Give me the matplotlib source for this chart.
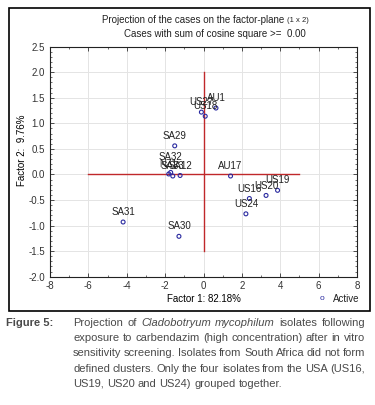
import matplotlib
matplotlib.use("Agg")
import matplotlib.pyplot as plt
from matplotlib.patches import Rectangle
from matplotlib.ticker import MultipleLocator

# isolate scores on factor 1 / factor 2
labels = ["AU1", "US27", "US18", "SA29", "SA32", "NZ1", "SA33", "SA12",
          "AU17", "US19", "US20", "US16", "US24", "SA31", "SA30"]
factor1 = [0.65, -0.11, 0.09, -1.50, -1.71, -1.81, -1.60, -1.22,
           1.41, 3.86, 3.26, 2.39, 2.21, -4.19, -1.28]
factor2 = [1.30, 1.22, 1.14, 0.56, 0.04, 0.01, -0.03, -0.02,
           -0.03, -0.31, -0.41, -0.47, -0.77, -0.93, -1.21]

x_ticks = [-8, -6, -4, -2, 0, 2, 4, 6, 8]
y_ticks = [-2.0, -1.5, -1.0, -0.5, 0.0, 0.5, 1.0, 1.5, 2.0, 2.5]

caption_lines = [
    [("Projection", "normal"), ("of", "normal"), ("Cladobotryum", "italic"),
     ("mycophilum", "italic"), ("isolates", "normal"), ("following", "normal")],
    "exposure to carbendazim (high concentration) after in vitro",
    "sensitivity screening. Isolates from South Africa did not form",
    "defined clusters. Only the four isolates from the USA (US16,",
    "US19, US20 and US24) grouped together.",
]

plt.rcParams['font.family'] = ['Liberation Sans', 'DejaVu Sans']
W, H = 375, 405
fig = plt.figure(figsize=(W / 100, H / 100), dpi=100)

def fx(px):
    return px / W

def fy(py):
    return 1 - py / H

ax = fig.add_axes([fx(50), fy(276.7), fx(357) - fx(50), fy(46.7) - fy(276.7)])
ax.set_xlim(-8, 8)
ax.set_ylim(-2.0, 2.5)
ax.set_xticks(x_ticks)
ax.set_yticks(y_ticks)
ax.set_xticklabels([str(t) for t in x_ticks])
ax.set_yticklabels(["%.1f" % t for t in y_ticks])
ax.xaxis.set_minor_locator(MultipleLocator(1))
ax.yaxis.set_minor_locator(MultipleLocator(0.1))
ax.tick_params(which='both', direction='in', labelsize=7, colors='#333333',
               top=True, right=True)
ax.tick_params(which='major', length=3, width=0.6)
ax.tick_params(which='minor', length=1.5, width=0.5)
ax.tick_params(axis='x', pad=3)
ax.grid(True, color='#e4e4e4', linewidth=0.7)
ax.set_axisbelow(True)
for s in ax.spines.values():
    s.set_linewidth(0.8)
    s.set_color('#222222')

# reference lines
ax.plot([-6, 5], [0, 0], color='#c0282a', linewidth=1.0, zorder=2)
ax.plot([0, 0], [-1.5, 2.0], color='#c0282a', linewidth=1.0, zorder=2)

ax.scatter(factor1, factor2, s=8, facecolors='none', edgecolors='#2a2aa0',
           linewidths=0.8, zorder=3)
# statistica pushes some clustered labels up a bit
raised = {"SA32": 7.5}
for lab, x, y in zip(labels, factor1, factor2):
    ax.annotate(lab, (x, y), xytext=(0, raised.get(lab, 3.5)),
                textcoords='offset points', ha='center', va='bottom',
                fontsize=7, color='#222222')

ax.set_xlabel("Factor 1: 82.18%", fontsize=7, labelpad=2)
ax.set_ylabel("Factor 2:  9.76%", fontsize=7)
ax.yaxis.set_label_coords(-0.075, 0.55)

# outer frame and titles
fig.patches.append(Rectangle((fx(9), fy(311)), fx(370) - fx(9), fy(8) - fy(311),
                             transform=fig.transFigure, fill=False,
                             edgecolor='black', linewidth=1.2))
fig.text(fx(284), fy(20), "Projection of the cases on the factor-plane",
         ha='right', va='center', fontsize=7, color='#222222')
fig.text(fx(287), fy(20.5), "(1 x 2)", ha='left', va='center', fontsize=5.5,
         color='#222222')
fig.text(fx(215), fy(34), "Cases with sum of cosine square >=  0.00",
         ha='center', va='center', fontsize=7, color='#222222')

# legend
fig.text(fx(322), fy(299), "o", ha='center', va='center', fontsize=6,
         color='#2a2aa0')
fig.text(fx(333), fy(299), "Active", ha='left', va='center', fontsize=7,
         color='#222222')

# caption, justified word by word
cap_color = '#4a4a4a'
cap_size = 8.0
fig.text(fx(6), fy(323), "Figure 5:", ha='left', va='center', fontsize=cap_size,
         fontweight='bold', color=cap_color)
renderer = fig.canvas.get_renderer()
x0, x1 = 73, 365
for i, line in enumerate(caption_lines):
    if isinstance(line, str):
        words = [(w, "normal") for w in line.split()]
    else:
        words = line
    ypix = 323 + i * 15.2
    texts = []
    for w, st in words:
        t = fig.text(0, fy(ypix), w, ha='left', va='center', fontsize=cap_size,
                     style=st, color=cap_color)
        texts.append(t)
    widths = [t.get_window_extent(renderer).width for t in texts]
    last = i == len(caption_lines) - 1
    if last:
        gap = renderer.points_to_pixels(cap_size) * 0.28
    else:
        gap = (x1 - x0 - sum(widths)) / (len(texts) - 1)
    xp = x0
    for t, wd in zip(texts, widths):
        t.set_x(fx(xp))
        xp += wd + gap

fig.savefig("out.png", dpi=100)
